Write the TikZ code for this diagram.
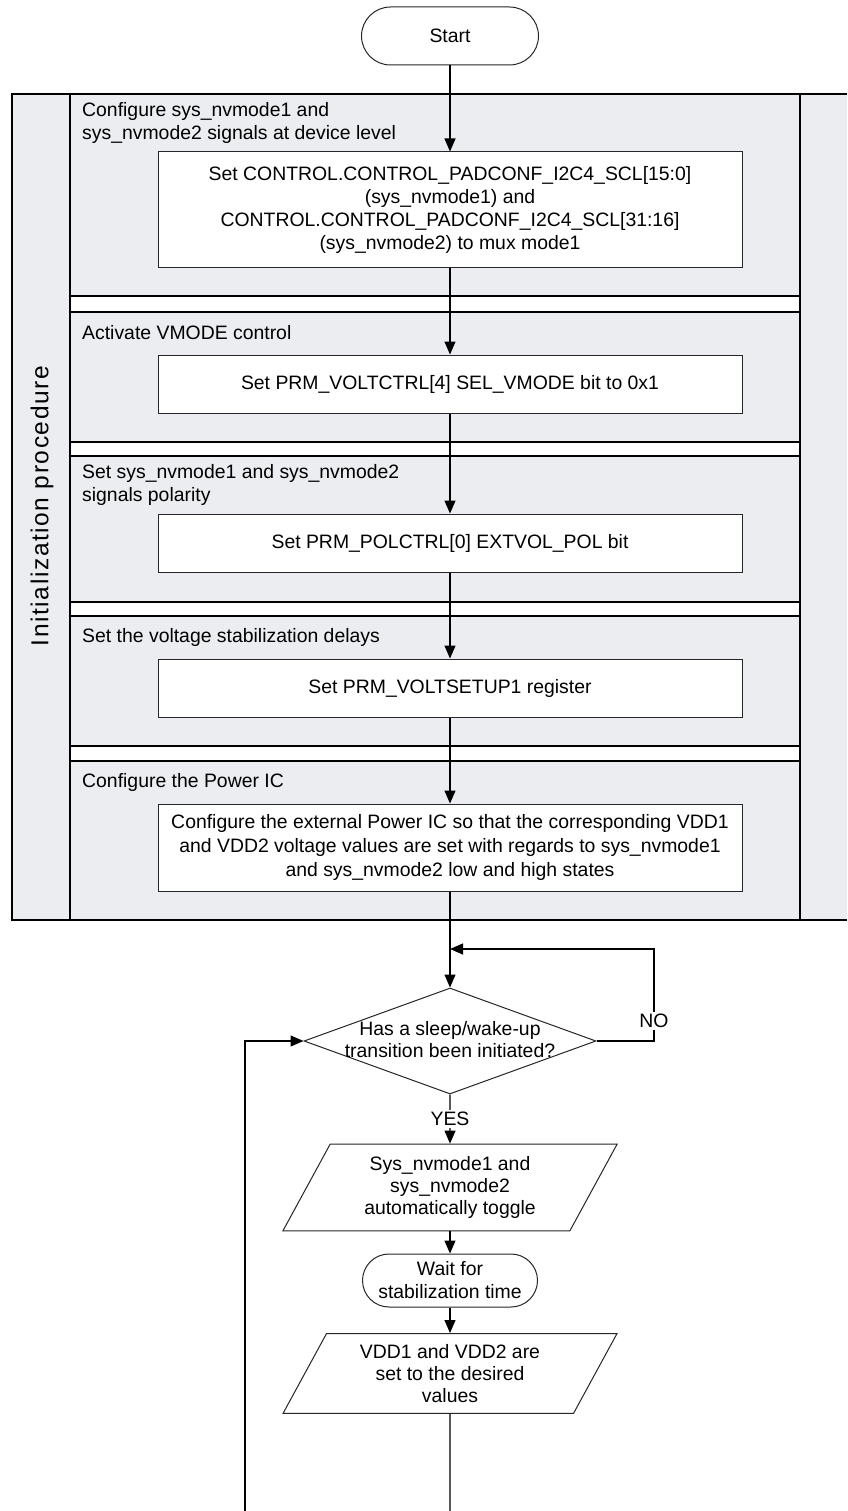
\documentclass[tikz,border=0pt]{standalone}
\usepackage{fontspec}
\setmainfont{Liberation Sans}
\newfontfamily\lanefont[LetterSpace=6.5]{Liberation Sans}
\usetikzlibrary{arrows.meta,shapes.geometric}
\definecolor{lanegray}{RGB}{236,237,240}
\begin{document}
\begin{tikzpicture}[x=1pt,y=-1pt,
  every node/.style={font=\fontsize{19.4}{23}\selectfont, inner sep=0pt},
  laneline/.style={line width=2.4pt, draw=black},
  procbox/.style={draw=black!85, line width=1pt, fill=white, minimum width=584pt, align=center},
  termbox/.style={draw=black!85, line width=1pt, fill=white, align=center},
  decbox/.style={draw=black!85, line width=1pt, fill=white, diamond, minimum width=292pt, minimum height=106pt},
  iobox/.style={draw=black!85, line width=1pt, fill=white, trapezium, trapezium left angle=61.4, trapezium right angle=118.6, minimum width=335pt, minimum height=79pt, align=center},
  lanelabel/.style={anchor=west, align=left},
  conn/.style={line width=1.2pt, draw=black},
  arr/.style={conn, -{Triangle[length=13pt,width=11pt]}},
  edgelabel/.style={fill=white, inner sep=2pt}
]
\useasboundingbox (0,0) rectangle (847,1511);

% swimlane background
\fill[lanegray] (12,94) rectangle (847,920);
\fill[white] (70,296) rectangle (800,312);
\fill[white] (70,442) rectangle (800,456);
\fill[white] (70,602) rectangle (800,616);
\fill[white] (70,746) rectangle (800,761);
\draw[laneline] (847,94) -- (12,94) -- (12,920) -- (847,920);
\draw[laneline] (70,94) -- (70,920);
\draw[laneline] (800,94) -- (800,920);
\foreach \ya/\yb in {296/312, 442/456, 602/616, 746/761} {
  \draw[laneline] (70,\ya) -- (800,\ya);
  \draw[laneline] (70,\yb) -- (800,\yb);
}

\node[rotate=90, font=\lanefont\fontsize{24.5}{28}\selectfont] (title) at (42,506) {Initialization procedure};

% lane labels
\node[lanelabel] (l1) at (82,122.5) {Configure sys\_nvmode1 and\\sys\_nvmode2 signals at device level};
\node[lanelabel] (l2) at (82,333) {Activate VMODE control};
\node[lanelabel] (l3) at (82,485) {Set sys\_nvmode1 and sys\_nvmode2\\signals polarity};
\node[lanelabel] (l4) at (82,637) {Set the voltage stabilization delays};
\node[lanelabel] (l5) at (82,782) {Configure the Power IC};

% flow nodes
\node[termbox, minimum width=177pt, minimum height=58pt, rounded corners=29pt] (start) at (450,36) {Start};
\node[procbox, minimum height=116pt] (b1) at (450,210) {Set CONTROL.CONTROL\_PADCONF\_I2C4\_SCL[15:0]\\(sys\_nvmode1) and\\CONTROL.CONTROL\_PADCONF\_I2C4\_SCL[31:16]\\(sys\_nvmode2) to mux mode1};
\node[procbox, minimum height=58pt] (b2) at (450,384) {Set PRM\_VOLTCTRL[4] SEL\_VMODE bit to 0x1};
\node[procbox, minimum height=58pt] (b3) at (450,543) {Set PRM\_POLCTRL[0] EXTVOL\_POL bit};
\node[procbox, minimum height=58pt] (b4) at (450,688) {Set PRM\_VOLTSETUP1 register};
\node[procbox, minimum height=87pt, font=\fontsize{19.4}{24}\selectfont] (b5) at (450,847.5) {Configure the external Power IC so that the corresponding VDD1\\and VDD2 voltage values are set with regards to sys\_nvmode1\\and sys\_nvmode2 low and high states};

\node[decbox] (dec) at (450,1041) {};
\node[align=center, font=\fontsize{19.4}{22}\selectfont] (dectext) at (450,1040) {Has a sleep/wake-up\\transition been initiated?};

\node[iobox, font=\fontsize{19.4}{22}\selectfont] (p1) at (450,1187.5) {Sys\_nvmode1 and\\sys\_nvmode2\\automatically toggle};
\node[termbox, minimum width=175pt, minimum height=53pt, rounded corners=26.5pt] (wait) at (450,1280.5) {Wait for\\stabilization time};
\node[iobox, font=\fontsize{19.4}{22}\selectfont] (p2) at (450,1373.5) {VDD1 and VDD2 are\\set to the desired\\values};

\coordinate (J) at (450,949);
\coordinate (loopR) at (654,949);
\coordinate (botR) at (450,1511);
\coordinate (botL) at (245,1511);

% connectors
\draw[arr] (start) -- (b1);
\draw[arr] (b1) -- (b2);
\draw[arr] (b2) -- (b3);
\draw[arr] (b3) -- (b4);
\draw[arr] (b4) -- (b5);
\draw[arr] (b5) -- (dec);
\draw[arr] (dec.east) -| (loopR) -- (J);
\node[edgelabel] (no) at (654,1021) {NO};
\draw[arr] (dec) -- node[edgelabel] (yes) {YES} (p1);
\draw[arr] (p1) -- (wait);
\draw[arr] (wait) -- (p2);
\draw[conn] (p2) -- (botR);
\draw[arr] (botL) |- (dec.west);
\end{tikzpicture}
\end{document}
